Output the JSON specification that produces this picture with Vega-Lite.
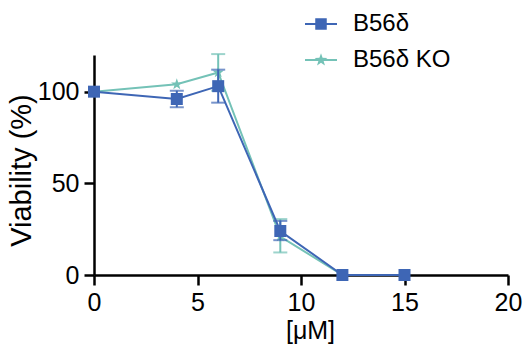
{
  "$schema": "https://vega.github.io/schema/vega-lite/v6.json",
  "width": 414,
  "height": 220,
  "autosize": {"type": "none"},
  "padding": {"left": 94, "top": 55, "right": 16, "bottom": 81},
  "background": "white",
  "config": {
    "view": {"stroke": null},
    "font": "Liberation Sans",
    "axis": {
      "grid": false,
      "domainColor": "black",
      "domainWidth": 2.5,
      "tickColor": "black",
      "tickWidth": 2.5,
      "tickSize": 10,
      "labelFont": "Liberation Sans",
      "labelFontSize": 25,
      "labelColor": "black",
      "labelFlush": false,
      "labelOverlap": false,
      "titleFont": "Liberation Sans",
      "titleFontSize": 25,
      "titleFontWeight": "normal",
      "titleColor": "black"
    }
  },
  "data": {
    "values": [
      {"g": "B56δ KO", "x": 0, "y": 100, "lo": null, "hi": null},
      {"g": "B56δ KO", "x": 4, "y": 104, "lo": null, "hi": null},
      {"g": "B56δ KO", "x": 6, "y": 110.5, "lo": 100.5, "hi": 120.5},
      {"g": "B56δ KO", "x": 9, "y": 21, "lo": 12.3, "hi": 30.5},
      {"g": "B56δ KO", "x": 12, "y": 0, "lo": null, "hi": null},
      {"g": "B56δ KO", "x": 15, "y": 0, "lo": null, "hi": null},
      {"g": "B56δ", "x": 0, "y": 100, "lo": null, "hi": null},
      {"g": "B56δ", "x": 4, "y": 96, "lo": 91.5, "hi": 100.5},
      {"g": "B56δ", "x": 6, "y": 103, "lo": 94, "hi": 112},
      {"g": "B56δ", "x": 9, "y": 24, "lo": 19, "hi": 29.5},
      {"g": "B56δ", "x": 12, "y": 0, "lo": null, "hi": null},
      {"g": "B56δ", "x": 15, "y": 0, "lo": null, "hi": null}
    ]
  },
  "encoding": {
    "x": {"field": "x", "type": "quantitative", "scale": {"domain": [0, 20], "nice": false},
      "axis": {"values": [0, 5, 10, 15, 20], "title": "[μM]", "labelPadding": 5, "titlePadding": 3, "titleX": 216}},
    "y": {"field": "y", "type": "quantitative", "scale": {"domain": [0, 120], "nice": false},
      "axis": {"values": [0, 50, 100], "title": "Viability (%)", "titleFontSize": 29, "labelPadding": 5, "titlePadding": 1, "titleY": 115}},
    "color": {"field": "g", "type": "nominal",
      "scale": {"domain": ["B56δ", "B56δ KO"], "range": ["#3E66B5", "#74C2B7"]},
      "legend": {
        "title": null, "orient": "none", "legendX": 211, "legendY": -47,
        "padding": 0, "rowPadding": 8, "labelFontSize": 24, "labelFont": "Liberation Sans",
        "labelColor": "black", "labelOffset": 16, "symbolSize": 1024, "symbolStrokeWidth": 0,
        "encode": {"symbols": {"update": {
          "shape": {"signal": "datum.value === 'B56δ' ? 'M-1,-0.065H1V0.065H-1Z M-0.36,-0.36H0.36V0.36H-0.36Z' : 'M-1,-0.065H1V0.065H-1Z M0,-0.42L0.099,-0.136L0.4,-0.13L0.16,0.052L0.247,0.34L0,0.168L-0.247,0.34L-0.16,0.052L-0.4,-0.13L-0.099,-0.136Z'"},
          "fill": {"signal": "datum.value === 'B56δ' ? '#3E66B5' : '#74C2B7'"},
          "fillOpacity": {"value": 1},
          "strokeWidth": {"value": 0}
        }}}
      }
    }
  },
  "layer": [
    {
      "transform": [{"filter": "datum.g === 'B56δ KO'"}],
      "layer": [
        {"transform": [{"filter": "datum.lo != null"}], "mark": {"type": "rule", "strokeWidth": 2}, "encoding": {"y": {"field": "lo", "type": "quantitative"}, "y2": {"field": "hi"}}},
        {"transform": [{"filter": "datum.lo != null"}], "mark": {"type": "tick", "orient": "horizontal", "size": 14, "thickness": 2}, "encoding": {"y": {"field": "lo", "type": "quantitative"}}},
        {"transform": [{"filter": "datum.lo != null"}], "mark": {"type": "tick", "orient": "horizontal", "size": 14, "thickness": 2}, "encoding": {"y": {"field": "hi", "type": "quantitative"}}},
        {"mark": {"type": "line", "strokeWidth": 2}, "encoding": {}},
        {"mark": {"type": "point", "filled": true, "opacity": 1, "size": 144, "shape": "M0,-1L0.235,-0.324L0.951,-0.309L0.38,0.124L0.588,0.809L0,0.4L-0.588,0.809L-0.38,0.124L-0.951,-0.309L-0.235,-0.324Z"}, "encoding": {}}
      ]
    },
    {
      "transform": [{"filter": "datum.g === 'B56δ'"}],
      "layer": [
        {"transform": [{"filter": "datum.lo != null"}], "mark": {"type": "rule", "strokeWidth": 2}, "encoding": {"y": {"field": "lo", "type": "quantitative"}, "y2": {"field": "hi"}}},
        {"transform": [{"filter": "datum.lo != null"}], "mark": {"type": "tick", "orient": "horizontal", "size": 14, "thickness": 2}, "encoding": {"y": {"field": "lo", "type": "quantitative"}}},
        {"transform": [{"filter": "datum.lo != null"}], "mark": {"type": "tick", "orient": "horizontal", "size": 14, "thickness": 2}, "encoding": {"y": {"field": "hi", "type": "quantitative"}}},
        {"mark": {"type": "line", "strokeWidth": 2}, "encoding": {}},
        {"mark": {"type": "point", "filled": true, "opacity": 1, "size": 144, "shape": "square"}, "encoding": {}}
      ]
    }
  ]
}
